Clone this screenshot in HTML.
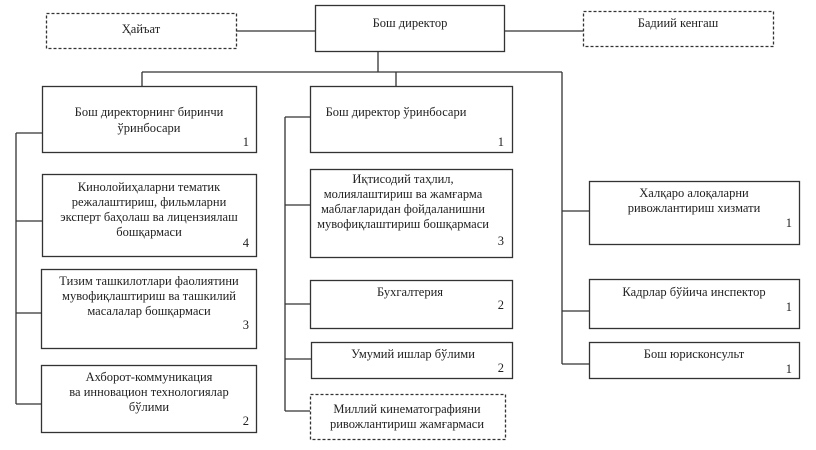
<!DOCTYPE html>
<html><head><meta charset="utf-8"><style>
html,body{margin:0;padding:0;background:#fff;}
svg{display:block;}
text{font-family:"Liberation Serif",serif;font-size:12.5px;fill:#222;}
</style></head><body>
<svg width="816" height="450" viewBox="0 0 816 450" xmlns="http://www.w3.org/2000/svg">
<g fill="none" stroke="#333" stroke-width="1.3">
<rect x="46.5" y="13.5" width="190" height="35" stroke-dasharray="3,2"/>
<rect x="315.5" y="5.5" width="189" height="46"/>
<rect x="583.5" y="11.5" width="190" height="35" stroke-dasharray="3,2"/>
<path d="M236 31H315M504 31H583M378 51V72M142 72H562M142 72V86M396 72V86M562 72V364"/>
<rect x="42.5" y="86.5" width="214" height="66"/>
<rect x="42.5" y="174.5" width="214" height="82"/>
<rect x="41.5" y="269.5" width="215" height="79"/>
<rect x="41.5" y="365.5" width="215" height="67"/>
<path d="M16 133V404M16 133H42M16 221H42M16 313H42M16 404H42"/>
<rect x="310.5" y="86.5" width="202" height="66"/>
<rect x="310.5" y="169.5" width="202" height="88"/>
<rect x="310.5" y="280.5" width="202" height="48"/>
<rect x="311.5" y="342.5" width="201" height="36"/>
<rect x="310.5" y="394.5" width="195" height="45" stroke-dasharray="3,2"/>
<path d="M285 117V411M285 117H310M285 205H310M285 304H310M285 359H311M285 411H310"/>
<rect x="589.5" y="181.5" width="210" height="63"/>
<rect x="589.5" y="279.5" width="210" height="49"/>
<rect x="589.5" y="342.5" width="210" height="36"/>
<path d="M562 211H589M562 311H589M562 364H589"/>
</g>
<g text-anchor="middle">
<text x="141" y="33">Ҳайъат</text>
<text x="410" y="27">Бош директор</text>
<text x="678" y="27">Бадиий кенгаш</text>
<text x="149" y="116">Бош директорнинг биринчи</text>
<text x="149" y="132">ўринбосари</text>
<text x="149" y="191">Кинолойиҳаларни тематик</text>
<text x="149" y="206">режалаштириш, фильмларни</text>
<text x="149" y="221">эксперт баҳолаш ва лицензиялаш</text>
<text x="149" y="236">бошқармаси</text>
<text x="149" y="285">Тизим ташкилотлари фаолиятини</text>
<text x="149" y="300">мувофиқлаштириш ва ташкилий</text>
<text x="149" y="315">масалалар бошқармаси</text>
<text x="149" y="381">Ахборот-коммуникация</text>
<text x="149" y="396">ва инновацион технологиялар</text>
<text x="149" y="411">бўлими</text>
<text x="396" y="116">Бош директор ўринбосари</text>
<text x="403" y="183">Иқтисодий таҳлил,</text>
<text x="403" y="198">молиялаштириш ва жамғарма</text>
<text x="403" y="213">маблағларидан фойдаланишни</text>
<text x="403" y="228">мувофиқлаштириш бошқармаси</text>
<text x="410" y="296">Бухгалтерия</text>
<text x="413" y="358">Умумий ишлар бўлими</text>
<text x="407" y="413">Миллий кинематографияни</text>
<text x="407" y="428">ривожлантириш жамғармаси</text>
<text x="694" y="197">Халқаро алоқаларни</text>
<text x="694" y="212">ривожлантириш хизмати</text>
<text x="694" y="296">Кадрлар бўйича инспектор</text>
<text x="694" y="358">Бош юрисконсульт</text>
</g>
<g text-anchor="end">
<text x="249" y="146">1</text>
<text x="249" y="247">4</text>
<text x="249" y="329">3</text>
<text x="249" y="425">2</text>
<text x="504" y="146">1</text>
<text x="504" y="245">3</text>
<text x="504" y="309">2</text>
<text x="504" y="372">2</text>
<text x="792" y="227">1</text>
<text x="792" y="311">1</text>
<text x="792" y="373">1</text>
</g>
</svg>
</body></html>
